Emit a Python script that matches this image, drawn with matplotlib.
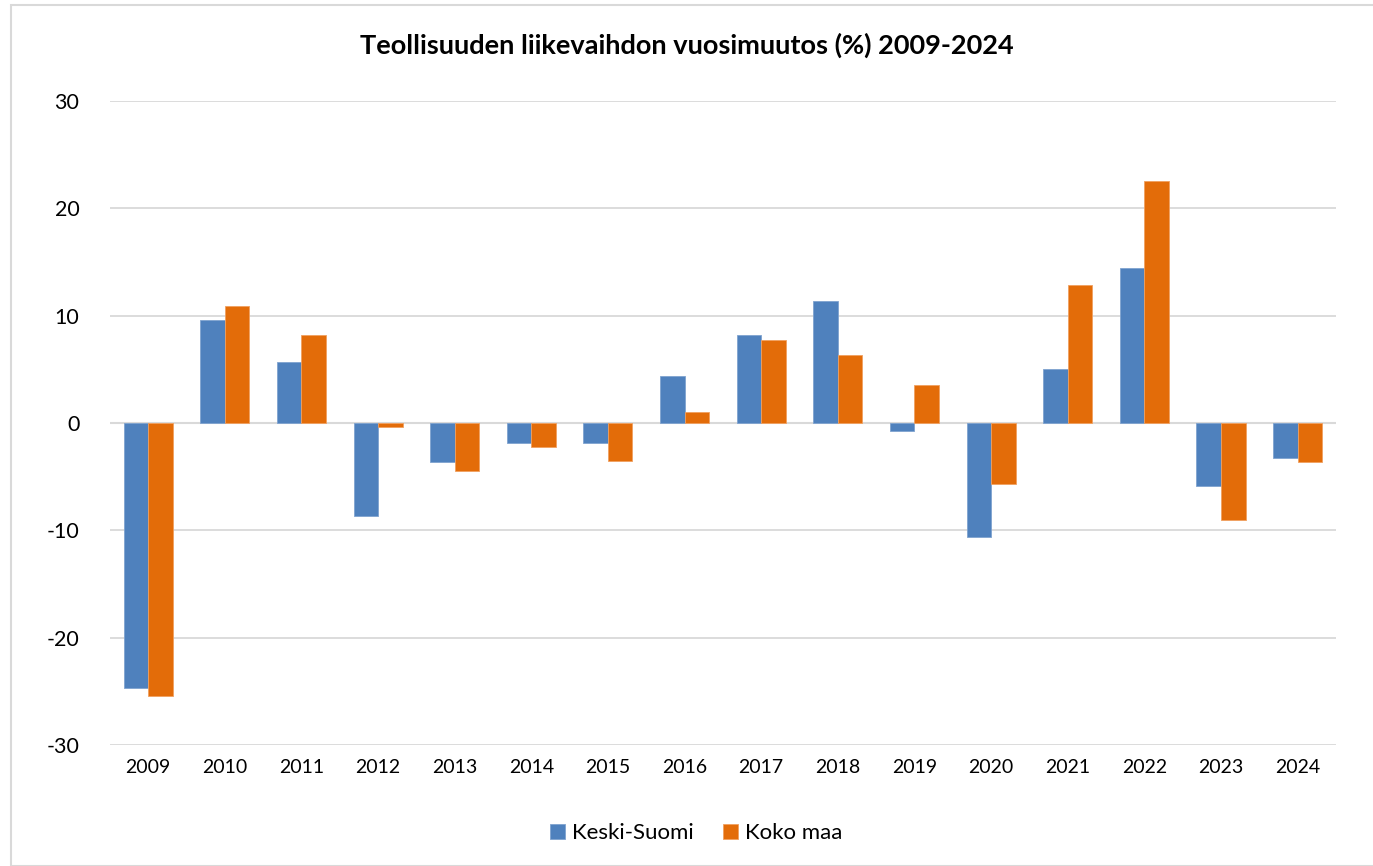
import numpy as np
import matplotlib.pyplot as plt
from matplotlib.patches import Rectangle

years = ['2009', '2010', '2011', '2012', '2013', '2014', '2015', '2016',
         '2017', '2018', '2019', '2020', '2021', '2022', '2023', '2024']
keski_suomi = [-24.7, 9.6, 5.7, -8.7, -3.6, -1.9, -1.9, 4.4,
               8.2, 11.4, -0.7, -10.6, 5.0, 14.4, -5.9, -3.3]
koko_maa = [-25.4, 10.9, 8.2, -0.4, -4.5, -2.2, -3.5, 1.0,
            7.7, 6.3, 3.5, -5.7, 12.9, 22.5, -9.0, -3.6]

plt.rcParams['font.family'] = ['Lato', 'DejaVu Sans']
plt.rcParams['axes.unicode_minus'] = False

fig = plt.figure(figsize=(13.73, 8.66), dpi=100)
fig.patches.append(Rectangle((11 / 1373, 0.0), 1.0, 1 - 5 / 866, transform=fig.transFigure,
                             fill=False, edgecolor='#d9d9d9', linewidth=1.5))
ax = fig.add_axes([0.080, 0.1397, 0.893, 0.7437])

x = np.arange(len(years))
w = 0.32
ax.bar(x - w / 2, keski_suomi, w, color='#4f81bd', edgecolor='#7fa3cf',
       linewidth=0.6, label='Keski-Suomi', zorder=3)
ax.bar(x + w / 2, koko_maa, w, color='#e36c09', edgecolor='#f0a060',
       linewidth=0.6, label='Koko maa', zorder=3)

ax.set_xlim(-0.5, len(years) - 0.5)
ax.set_ylim(-30, 30)
ax.set_yticks(range(-30, 31, 10))
ax.yaxis.grid(True, color='#d9d9d9', linewidth=1.3, zorder=0)
ax.set_xticks(x)
ax.set_xticklabels(years, fontsize=14)
ax.tick_params(axis='y', labelsize=15.5, length=0, pad=22)
ax.tick_params(axis='x', length=0, pad=10)
ax.axhline(0, color='#d9d9d9', linewidth=1.5, zorder=2)
for s in ax.spines.values():
    s.set_visible(False)

fig.text(0.5, 0.948, 'Teollisuuden liikevaihdon vuosimuutos (%) 2009-2024',
         ha='center', va='center', fontsize=19.5, fontweight='bold')

fig.legend(loc='center', bbox_to_anchor=(0.507, 0.038), ncol=2, frameon=False,
           fontsize=16, handlelength=0.7, handleheight=0.7, columnspacing=1.3,
           handletextpad=0.3)

plt.savefig('out.png', dpi=100)
